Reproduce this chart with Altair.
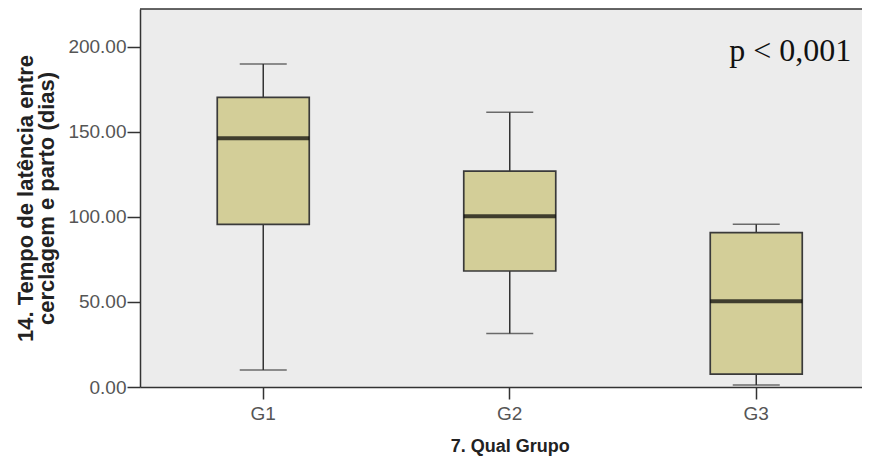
import altair as alt
import pandas as pd

groups = ["G1", "G2", "G3"]
whisker_low = [10.0, 31.5, 1.2]
q1 = [95.6, 68.2, 7.6]
median = [146.2, 100.3, 50.4]
q3 = [170.3, 126.9, 90.7]
whisker_high = [189.8, 161.5, 95.6]
y_ticks = [0, 50, 100, 150, 200]
annotation_group = ["G3"]
annotation_y = [191.5]
annotation_text = ["p < 0,001"]

df = pd.DataFrame({
    "group": groups,
    "whisker_low": whisker_low,
    "q1": q1,
    "median": median,
    "q3": q3,
    "whisker_high": whisker_high,
})
ann = pd.DataFrame({"group": annotation_group, "y": annotation_y, "label": annotation_text})

LINE = "#333333"
FONT = "Liberation Sans"
W = 722

xscale = alt.Scale(domain=groups, range=[0, 739.5], paddingInner=0, paddingOuter=0)
xaxis = alt.Axis(
    labelAngle=0, labelFont=FONT, labelFontSize=19, labelColor="#555555",
    labelPadding=5, tickSize=12, tickColor=LINE, tickWidth=1.5,
    domainColor=LINE, domainWidth=1.5, grid=False,
    titleFont=FONT, titleFontSize=18, titleFontWeight="bold", titleColor="#222222",
    titlePadding=14,
)
yscale = alt.Scale(domain=[0, 222.2], nice=False, zero=True)
yaxis = alt.Axis(
    values=y_ticks, format=".2f", labelFont=FONT, labelFontSize=19,
    labelColor="#555555", labelPadding=1, tickSize=13, tickColor=LINE,
    tickWidth=1.5, domainColor=LINE, domainWidth=1.5, grid=False,
    titleFont=FONT, titleFontSize=22, titleFontWeight="bold", titleColor="#222222",
    titlePadding=9, titleLineHeight=21,
)
ytitle = ["14. Tempo de latência entre", "cerclagem e parto (dias)"]

X = alt.X("group:N", scale=xscale, axis=xaxis, title="7. Qual Grupo")

def Y(field):
    return alt.Y(f"{field}:Q", scale=yscale, axis=yaxis, title=ytitle)

base = alt.Chart(df)

whisk_lo = base.mark_rule(color=LINE, strokeWidth=1.5).encode(x=X, y=Y("whisker_low"), y2="q1:Q")
whisk_hi = base.mark_rule(color=LINE, strokeWidth=1.5).encode(x=X, y=Y("q3"), y2="whisker_high:Q")
cap_lo = base.mark_tick(color=LINE, size=47, thickness=1.5).encode(x=X, y=Y("whisker_low"))
cap_hi = base.mark_tick(color=LINE, size=47, thickness=1.5).encode(x=X, y=Y("whisker_high"))
box = base.mark_bar(size=92, fill="#d3ce98", stroke="#3a3a3a", strokeWidth=1.7).encode(
    x=X, y=Y("q1"), y2="q3:Q")
med = base.mark_tick(color="#000000", size=92, thickness=4).encode(x=X, y=Y("median"))

top_border = alt.Chart(pd.DataFrame({"a": [0]})).mark_rule(color=LINE, strokeWidth=1.5).encode(
    x=alt.value(0), x2=alt.value(W), y=alt.value(0))

text = alt.Chart(ann).mark_text(
    font="Liberation Serif", fontSize=32, dx=34, baseline="alphabetic", color="#111111"
).encode(x=X, y=alt.Y("y:Q", scale=yscale, axis=yaxis, title=ytitle), text="label:N")

chart = alt.layer(whisk_lo, whisk_hi, cap_lo, cap_hi, box, med, top_border, text).properties(
    width=W, height=378,
    autosize=alt.AutoSizeParams(type="none"),
    padding={"left": 132, "top": 1, "right": 0, "bottom": 70},
).configure_view(stroke=None, strokeWidth=0, fill="#ececec")

chart.save("out.html", embed_options={"renderer": "svg", "actions": False})
